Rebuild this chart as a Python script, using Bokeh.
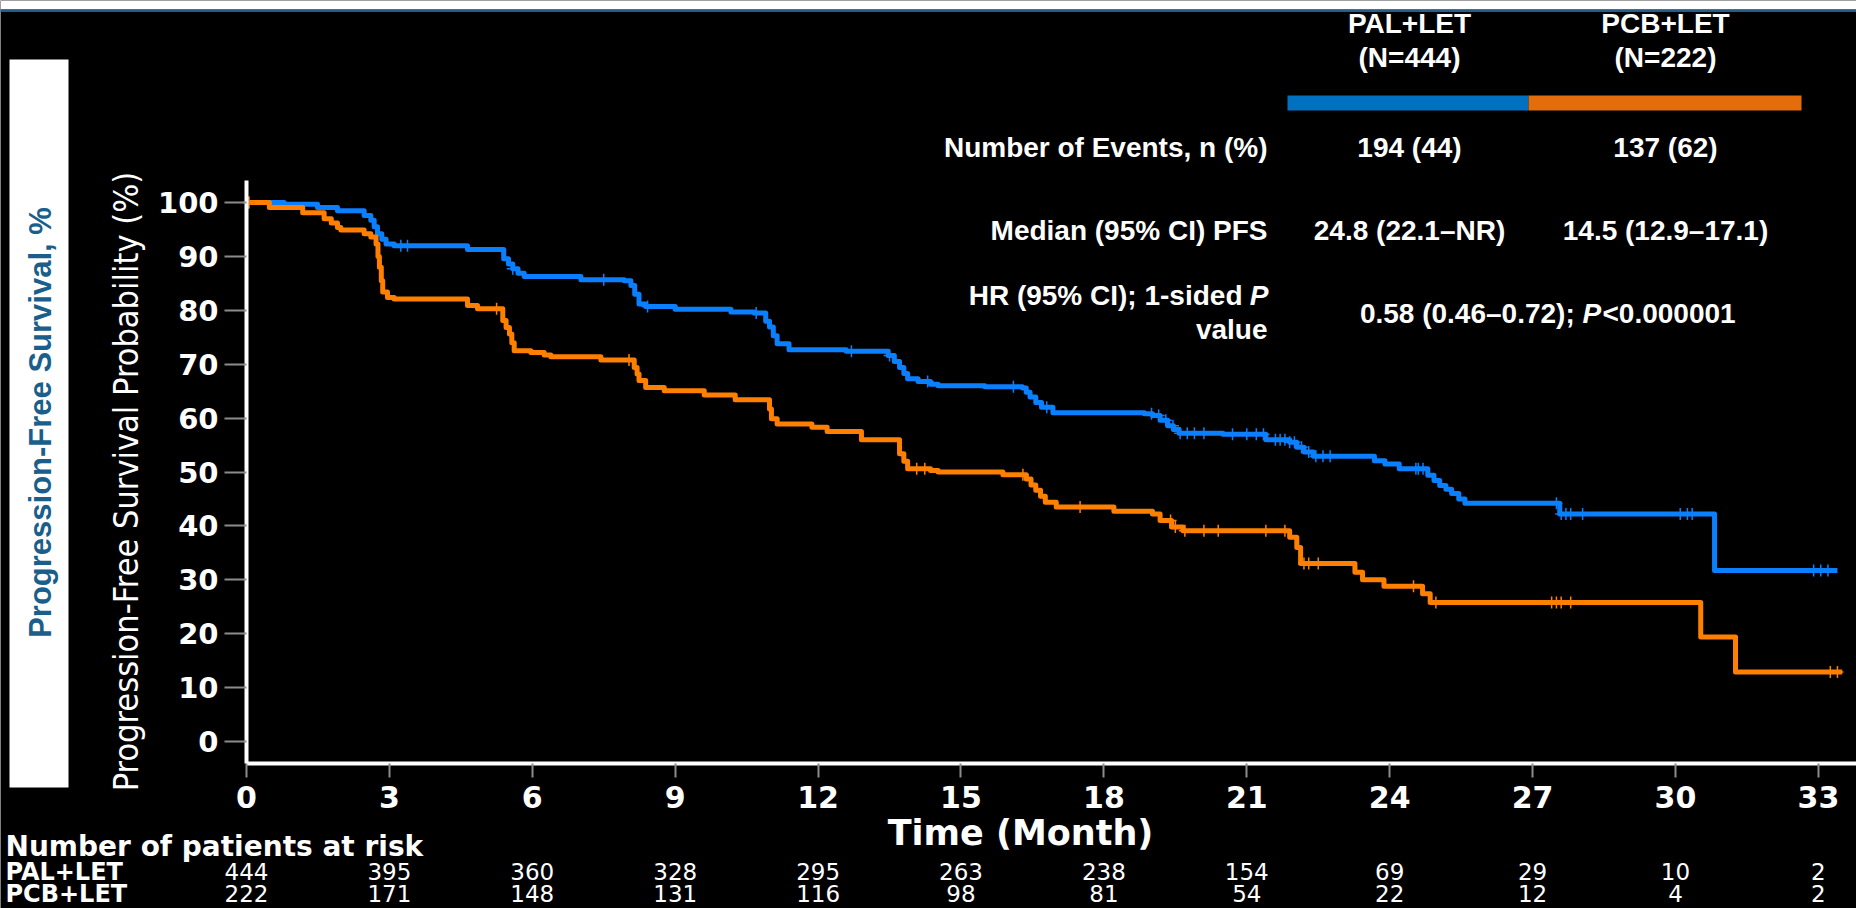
import numpy as np
from bokeh.plotting import figure
from bokeh.models import Label, BoxAnnotation, FixedTicker
from bokeh.embed import file_html
from bokeh.resources import INLINE

# ---------------- data ----------------
month_ticks = [0, 3, 6, 9, 12, 15, 18, 21, 24, 27, 30, 33]
pct_ticks = [0, 10, 20, 30, 40, 50, 60, 70, 80, 90, 100]

arms = ["PAL+LET", "PCB+LET"]
arm_n = ["(N=444)", "(N=222)"]
events = ["194 (44)", "137 (62)"]
medians = ["24.8 (22.1–NR)", "14.5 (12.9–17.1)"]
hr_label = "HR (95% CI); 1-sided"
hr_value = "0.58 (0.46–0.72); "
p_value = "<0.000001"

risk_pal = [444, 395, 360, 328, 295, 263, 238, 154, 69, 29, 10, 2]
risk_pcb = [222, 171, 148, 131, 116, 98, 81, 54, 22, 12, 4, 2]

# Kaplan-Meier steps (time in months, survival % after the step)
pal_t = [0, 0.79, 1.49, 1.91, 2.47, 2.61, 2.68, 2.75, 2.84, 2.93, 3.1, 4.64, 5.4, 5.5,
         5.59, 5.7, 5.83, 7.02, 7.93, 8.07, 8.15, 8.24, 8.38, 9.0, 10.17, 10.66, 10.9,
         10.98, 11.06, 11.14, 11.39, 12.59, 13.47, 13.6, 13.71, 13.8, 13.88, 14.1, 14.36,
         14.52, 15.5, 16.29, 16.37, 16.45, 16.57, 16.69, 16.93, 18.85, 19.02, 19.18,
         19.34, 19.46, 19.58, 20.5, 21.4, 21.9, 22.05, 22.2, 22.4, 23.68, 23.9, 24.2,
         24.8, 24.93, 25.05, 25.18, 25.3, 25.45, 25.58, 27.57, 30.82]
pal_s = [100, 99.7, 99.1, 98.5, 97.6, 96.7, 95.5, 94.2, 93.2, 92.3, 92.0, 91.3, 89.6, 88.6,
         87.7, 86.9, 86.3, 85.7, 85.5, 84.6, 83.0, 81.2, 80.7, 80.2, 79.7, 79.5, 78.0,
         76.9, 75.3, 73.8, 72.7, 72.4, 71.6, 70.5, 69.4, 68.3, 67.3, 66.8, 66.3,
         66.0, 65.8, 65.6, 64.8, 63.9, 62.9, 62.0, 61.0, 60.8, 60.5, 59.6,
         58.6, 57.9, 57.2, 57.0, 56.0, 55.5, 54.6, 53.7, 52.9, 52.1, 51.5, 50.6,
         49.4, 48.4, 47.5, 46.8, 46.0, 45.0, 44.2, 42.2, 31.7]
pal_end = 33.4

pcb_t = [0, 0.48, 1.18, 1.63, 1.78, 1.91, 1.98, 2.47, 2.61, 2.72, 2.76, 2.79, 2.83, 2.86,
         2.96, 3.1, 4.64, 4.85, 5.38, 5.45, 5.52, 5.57, 5.62, 5.97, 6.25, 6.39, 7.44,
         8.14, 8.2, 8.24, 8.38, 8.77, 9.61, 10.26, 10.98, 11.02, 11.14, 11.87, 12.19,
         12.91, 13.71, 13.8, 13.88, 14.36, 14.52, 15.88, 16.37, 16.47, 16.57, 16.67,
         16.77, 17.0, 18.21, 19.02, 19.18, 19.42, 19.66, 21.9, 22.05, 22.13, 23.27,
         23.43, 23.88, 24.69, 24.85, 30.53, 31.26]
pcb_s = [100, 99.1, 98.1, 97.0, 96.2, 95.4, 94.9, 94.2, 93.6, 92.3, 90.0, 88.0, 85.5, 83.4,
         82.4, 82.1, 80.9, 80.3, 78.1, 76.8, 75.6, 74.0, 72.5, 72.2, 71.7, 71.4, 70.8,
         69.4, 68.2, 67.0, 65.7, 65.1, 64.3, 63.4, 61.7, 59.9, 58.9, 58.3, 57.5,
         56.0, 53.4, 52.0, 50.6, 50.3, 50.0, 49.5, 48.7, 47.6, 46.6, 45.5,
         44.4, 43.5, 42.7, 42.2, 41.0, 39.8, 39.1, 37.9, 36.0, 33.0, 31.4,
         30.0, 28.8, 27.4, 25.8, 19.4, 12.9]
pcb_end = 33.5

pal_cens = [0.05, 3.24, 3.38, 5.59, 7.5, 8.42, 10.7, 12.7, 13.5, 14.3, 16.1, 16.8, 19.0,
            19.15, 19.3, 19.45, 19.6, 19.75, 19.9, 20.1, 20.7, 21.0, 21.2, 21.35, 21.6,
            21.7, 21.8, 21.9, 22.0, 22.15, 22.3, 22.45, 22.6, 22.75, 24.55, 24.6, 24.7,
            27.5, 27.6, 27.7, 27.8, 28.05, 30.1, 30.25, 30.35, 32.9, 33.05, 33.2]
pcb_cens = [0.05, 5.25, 8.03, 14.07, 14.24, 16.3, 17.5, 19.4, 19.5, 19.7, 20.1, 20.4,
            21.4, 21.8, 22.2, 22.3, 22.5, 24.5, 24.97, 27.4, 27.5, 27.6, 27.8, 33.25, 33.4]

# ---------------- colours ----------------
BLUE = "#0a80ff"
ORANGE = "#ff8000"
BAR_BLUE = "#0070c0"
BAR_ORANGE = "#e46c0a"
TEAL = "#1a5f8c"

# ---------------- layout (frame = whole canvas, axes at fixed locations) ----------------
W, H = 1856, 908
AX_L, AX_R, AX_T, AX_B = 246, 1856, 180, 763      # pixel box of the plotting area
X_MAX = 33.8
Y_LO, Y_HI = -4.1, 104.1
PXM = (AX_R - AX_L) / X_MAX
PYU = (AX_B - AX_T) / (Y_HI - Y_LO)
XR = (-AX_L / PXM, X_MAX + (W - AX_R) / PXM)
YR = (Y_LO - (H - AX_B) / PYU, Y_HI + AX_T / PYU)


def dx(px):
    return XR[0] + px / W * (XR[1] - XR[0])


def dy(py):
    return YR[1] - py / H * (YR[1] - YR[0])


p = figure(width=W, height=H, x_range=XR, y_range=YR, output_backend="svg",
           toolbar_location=None, min_border=0,
           background_fill_color="black", border_fill_color="black",
           outline_line_color=None)
p.xgrid.visible = False
p.ygrid.visible = False

p.xaxis.ticker = FixedTicker(ticks=month_ticks)
p.yaxis.ticker = FixedTicker(ticks=pct_ticks)
p.xaxis.fixed_location = Y_LO
p.yaxis.fixed_location = 0
p.xaxis.bounds = (0, X_MAX)
p.yaxis.bounds = (Y_LO, Y_HI)
for ax in (p.xaxis, p.yaxis):
    ax.axis_line_color = "white"
    ax.axis_line_width = 4
    ax.major_tick_line_color = "#8c8c8c"
    ax.major_tick_line_width = 2
    ax.minor_tick_line_color = None
    ax.major_tick_in = 0
    ax.major_label_text_color = "white"
    ax.major_label_text_font = "DejaVu Sans"
    ax.major_label_text_font_style = "bold"
p.yaxis.major_label_text_font_size = "29px"
p.xaxis.major_label_text_font_size = "30px"
p.yaxis.major_tick_out = 22
p.yaxis.major_label_standoff = 6
p.xaxis.major_tick_out = 14
p.xaxis.major_label_standoff = 8


# ---------------- boxes ----------------
def box(l, r, t, b, color):
    p.add_layout(BoxAnnotation(left=dx(l), right=dx(r), top=dy(t), bottom=dy(b),
                               fill_color=color, fill_alpha=1.0, line_color=None,
                               line_alpha=0))


box(0, W, 0, 9, "white")
box(0, W, 9, 11.5, "#1f5f8b")
box(9, 68, 59, 787, "white")
box(1287, 1528, 95, 110, BAR_BLUE)
box(1528, 1801, 95, 110, BAR_ORANGE)

# ---------------- curves ----------------
p.step(x=pal_t + [pal_end], y=pal_s + [pal_s[-1]], mode="after", line_color=BLUE,
       line_width=5, line_join="round")
p.step(x=pcb_t + [pcb_end], y=pcb_s + [pcb_s[-1]], mode="after", line_color=ORANGE,
       line_width=5, line_join="round")


def surv_at(ts, ss, t):
    i = np.searchsorted(np.array(ts), np.array(t), side="right") - 1
    return list(np.array(ss)[i])


p.scatter(pal_cens, surv_at(pal_t, pal_s, pal_cens), marker="cross", size=12,
          line_color=BLUE, line_width=1.5)
p.scatter(pcb_cens, surv_at(pcb_t, pcb_s, pcb_cens), marker="cross", size=12,
          line_color=ORANGE, line_width=1.5)


# ---------------- texts ----------------
def lab(px, py, text, size, align="center", font="Liberation Sans", style="bold",
        color="white", angle=0, xdata=None):
    p.add_layout(Label(x=dx(px) if xdata is None else xdata, y=dy(py), text=text,
                       text_align=align, text_baseline="middle", text_font=font,
                       text_font_size=f"{size}px", text_font_style=style,
                       text_color=color, angle=angle, angle_units="deg"))


TS = 28
cols = [1409, 1665]
for i in range(2):
    lab(cols[i], 23, arms[i], TS)
    lab(cols[i], 57, arm_n[i], TS)
    lab(cols[i], 147, events[i], TS)
    lab(cols[i], 230, medians[i], TS)
lab(1267, 147, "Number of Events, n (%)", TS, align="right")
lab(1267, 230, "Median (95% CI) PFS", TS, align="right")
lab(1242, 295, hr_label, TS, align="right")
lab(1268, 295, "P", TS, align="right", style="bold italic")
lab(1267, 329, "value", TS, align="right")
lab(1582, 313, hr_value, TS, align="right")
lab(1582, 313, "P", TS, align="left", style="bold italic")
lab(1602, 313, p_value, TS, align="left")

# axis titles
lab(125, 481, "Progression-Free Survival Probability (%)", 34, font="DejaVu Sans Condensed",
    style="normal", angle=90)
lab(40, 422, "Progression-Free Survival, %", 31, color=TEAL, angle=90)
lab(1020, 832, "Time (Month)", 35, font="DejaVu Sans")

# risk table
lab(5, 846, "Number of patients at risk", 28, align="left", font="DejaVu Sans")
lab(5, 871, arms[0], 24, align="left", font="DejaVu Sans")
lab(5, 893, arms[1], 24, align="left", font="DejaVu Sans")
for m, a, b in zip(month_ticks, risk_pal, risk_pcb):
    lab(0, 871, str(a), 23, font="DejaVu Sans", style="normal", xdata=m)
    lab(0, 893, str(b), 23, font="DejaVu Sans", style="normal", xdata=m)

open("out.html", "w").write(file_html(p, INLINE, "PFS"))
